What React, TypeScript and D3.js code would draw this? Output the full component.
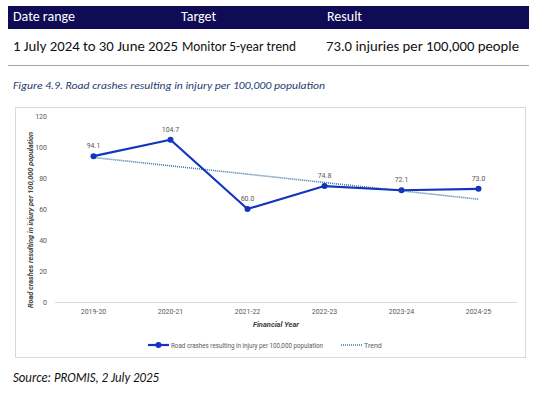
// @ts-nocheck
import React, { useEffect, useRef } from 'react';
import * as d3 from 'd3';

const years = ['2019-20', '2020-21', '2021-22', '2022-23', '2023-24', '2024-25'];
const rates = [94.1, 104.7, 60.0, 74.8, 72.1, 73.0];
const yTicks = [0, 20, 40, 60, 80, 100, 120];
const headers = ['Date range', 'Target', 'Result'];
const rowCells = ['1 July 2024 to 30 June 2025', 'Monitor 5-year trend', '73.0 injuries per 100,000 people'];

const BODY = "Carlito, 'Liberation Sans Narrow', 'Open Sans', sans-serif";
const SMALL = "Roboto, 'Liberation Sans', sans-serif";

const App = () => {
  const ref = useRef<SVGSVGElement | null>(null);

  useEffect(() => {
    const svg = d3.select(ref.current);
    svg.selectAll('*').remove();

    // table header
    svg.append('rect').attr('x', 8).attr('y', 6).attr('width', 521).attr('height', 23).attr('fill', '#100b55');
    const colX = [13, 181, 327];
    headers.forEach((h, i) => {
      svg.append('text').attr('x', colX[i]).attr('y', 21).attr('fill', '#fff')
        .style('font-family', BODY).style('font-size', '14px').text(h);
    });
    const rowX = [13, 182, 326];
    const rowW = [165, 114, 193];
    rowCells.forEach((c, i) => {
      svg.append('text').attr('x', rowX[i]).attr('y', 51).attr('fill', '#111')
        .attr('textLength', rowW[i]).attr('lengthAdjust', 'spacingAndGlyphs')
        .style('font-family', BODY).style('font-size', '14px').text(c);
    });
    svg.append('line').attr('x1', 8).attr('x2', 529).attr('y1', 65.5).attr('y2', 65.5)
      .attr('stroke', '#a6a6a6').attr('stroke-width', 1);

    svg.append('text').attr('x', 13).attr('y', 88.5).attr('fill', '#1f3a70')
      .attr('textLength', 312).attr('lengthAdjust', 'spacingAndGlyphs')
      .style('font-family', BODY).style('font-style', 'italic').style('font-size', '11px')
      .text('Figure 4.9. Road crashes resulting in injury per 100,000 population');

    // chart frame
    svg.append('rect').attr('x', 15.5).attr('y', 107.5).attr('width', 510).attr('height', 250)
      .attr('fill', '#fff').attr('stroke', '#d9d9d9').attr('stroke-width', 1);

    const x = d3.scaleBand().domain(years).range([55, 517]);
    const y = d3.scaleLinear().domain([0, 120]).range([302, 116]);
    const cx = (d) => x(d) + x.bandwidth() / 2;

    // y tick labels
    svg.selectAll('.ytick').data(yTicks).enter().append('text')
      .attr('x', 47).attr('y', (d) => y(d) + 2.5).attr('text-anchor', 'end')
      .attr('fill', '#595959').style('font-family', SMALL).style('font-size', '7px').text((d) => d);

    // x axis line
    svg.append('line').attr('x1', 55).attr('x2', 517).attr('y1', y(0) + 0.5).attr('y2', y(0) + 0.5)
      .attr('stroke', '#d9d9d9').attr('stroke-width', 1);

    svg.selectAll('.xtick').data(years).enter().append('text')
      .attr('x', cx).attr('y', 314).attr('text-anchor', 'middle')
      .attr('fill', '#595959').style('font-family', SMALL).style('font-size', '7px').text((d) => d);

    // axis titles
    svg.append('text').attr('x', 276).attr('y', 327).attr('text-anchor', 'middle')
      .attr('fill', '#404040').style('font-family', SMALL).style('font-size', '7.5px')
      .style('font-weight', 'bold').style('font-style', 'italic').text('Financial Year');
    svg.append('text').attr('transform', 'translate(33,220) rotate(-90)').attr('text-anchor', 'middle')
      .attr('textLength', 176).attr('lengthAdjust', 'spacingAndGlyphs')
      .attr('fill', '#404040').style('font-family', SMALL).style('font-size', '7.5px')
      .style('font-weight', 'bold').style('font-style', 'italic')
      .text('Road crashes resulting in injury per 100,000 population');

    // trend (least squares)
    const xi = years.map((_, i) => i);
    const mx = d3.mean(xi);
    const my = d3.mean(rates);
    const slope = d3.sum(xi, (v, i) => (v - mx) * (rates[i] - my)) / d3.sum(xi, (v) => (v - mx) ** 2);
    const b = my - slope * mx;
    const trend = years.map((d, i) => [cx(d), y(b + slope * i)]);
    svg.append('path').attr('d', d3.line()(trend)).attr('fill', 'none')
      .attr('stroke', '#3f75a3').attr('stroke-width', 1.6).attr('stroke-dasharray', '1 1');

    // main line
    const line = d3.line().x((d, i) => cx(years[i])).y((d) => y(d));
    svg.append('path').attr('d', line(rates)).attr('fill', 'none')
      .attr('stroke', '#1235c0').attr('stroke-width', 2.2).attr('stroke-linejoin', 'round');
    svg.selectAll('.pt').data(rates).enter().append('circle')
      .attr('cx', (d, i) => cx(years[i])).attr('cy', (d) => y(d)).attr('r', 3).attr('fill', '#1235c0');
    svg.selectAll('.lbl').data(rates).enter().append('text')
      .attr('x', (d, i) => cx(years[i])).attr('y', (d) => y(d) - 8).attr('text-anchor', 'middle')
      .attr('fill', '#595959').style('font-family', SMALL).style('font-size', '7px')
      .text((d) => d.toFixed(1));

    // legend
    svg.append('line').attr('x1', 148).attr('x2', 169).attr('y1', 345).attr('y2', 345)
      .attr('stroke', '#1235c0').attr('stroke-width', 2.2);
    svg.append('circle').attr('cx', 158.5).attr('cy', 345).attr('r', 3).attr('fill', '#1235c0');
    svg.append('text').attr('x', 171).attr('y', 347.5).attr('fill', '#595959')
      .attr('textLength', 152).attr('lengthAdjust', 'spacingAndGlyphs')
      .style('font-family', SMALL).style('font-size', '7px')
      .text('Road crashes resulting in injury per 100,000 population');
    svg.append('line').attr('x1', 341).attr('x2', 362).attr('y1', 345).attr('y2', 345)
      .attr('stroke', '#3f75a3').attr('stroke-width', 1.6).attr('stroke-dasharray', '1 1');
    svg.append('text').attr('x', 364).attr('y', 347.5).attr('fill', '#595959')
      .style('font-family', SMALL).style('font-size', '7px').text('Trend');

    // source
    svg.append('text').attr('x', 13).attr('y', 382).attr('fill', '#111')
      .attr('textLength', 146).attr('lengthAdjust', 'spacingAndGlyphs')
      .style('font-family', BODY).style('font-style', 'italic').style('font-size', '14px')
      .text('Source: PROMIS, 2 July 2025');
  }, []);

  return (
    <svg ref={ref} width={537} height={397}
      style={{ position: 'absolute', left: 0, top: 0, background: '#fff' }} />
  );
};

export default App;
